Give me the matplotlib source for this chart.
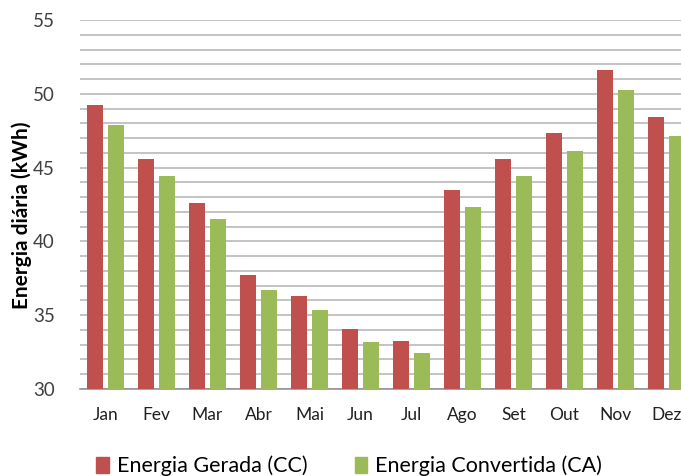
import matplotlib
matplotlib.use("Agg")
import matplotlib.pyplot as plt
import numpy as np
from matplotlib.patches import Patch

months = ["Jan", "Fev", "Mar", "Abr", "Mai", "Jun", "Jul", "Ago", "Set", "Out", "Nov", "Dez"]
gerada = [49.25, 45.6, 42.6, 37.7, 36.3, 34.05, 33.25, 43.5, 45.6, 47.35, 51.6, 48.45]
convertida = [47.9, 44.45, 41.5, 36.7, 35.35, 33.2, 32.45, 42.35, 44.45, 46.15, 50.25, 47.15]
yticks = [30, 35, 40, 45, 50, 55]

plt.rcParams['font.family'] = ['Lato', 'DejaVu Sans']

W, H = 681, 476
fig = plt.figure(figsize=(W / 100, H / 100), dpi=100)
ax = fig.add_axes([80 / W, (H - 389) / H, 612 / W, 369 / H])

x = np.arange(len(months))
red = "#C0504D"
green = "#9BBB59"
ax.bar(x - 0.205, gerada, width=0.33, color=red, zorder=3)
ax.bar(x + 0.205, convertida, width=0.33, color=green, zorder=3)

ax.set_xlim(-0.5, len(months) - 0.5)
ax.set_ylim(30, 55)
ax.set_yticks(yticks)
ax.set_yticks(np.arange(30, 56, 1), minor=True)
ax.yaxis.grid(True, which='both', color="#b3b3b3", linewidth=1.1, zorder=0)
ax.set_axisbelow(True)
ax.tick_params(axis='y', which='both', length=0, labelsize=13.5, pad=18, colors="#404040")
ax.tick_params(axis='x', length=0, labelsize=12.5, pad=13, colors="#202020")
ax.set_xticks(x)
ax.set_xticklabels(months)
for s in ["top", "right", "left"]:
    ax.spines[s].set_visible(False)
ax.spines["bottom"].set_color("#8c8c8c")
ax.spines["bottom"].set_linewidth(1.1)

fig.text(22 / W, 1 - 215 / H, "Energia diária (kWh)", rotation=90, fontsize=15,
         fontweight='bold', ha='center', va='center')

handles = [Patch(color=red, label="Energia Gerada (CC)"),
           Patch(color=green, label="Energia Convertida (CA)")]
fig.legend(handles=handles, loc='center', bbox_to_anchor=(349 / W, 1 - 466 / H),
           ncol=2, frameon=False, fontsize=15.5, handlelength=0.6, handleheight=0.8,
           handletextpad=0.35, columnspacing=2.2)

fig.savefig("out.png", dpi=100)
